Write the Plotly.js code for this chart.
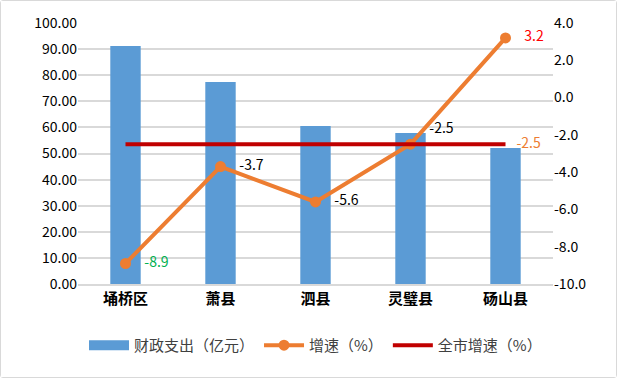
<!DOCTYPE html>
<html><head><meta charset="utf-8">
<script src="https://cdn.plot.ly/plotly-3.0.1.min.js"></script>
<style>html,body{margin:0;padding:0;background:#fff}#c{width:615px;height:376px;border:1px solid #D9D9D9;border-radius:3px}</style>
</head><body><div id="c"></div>
<script>
const categories = ['埇桥区','萧县','泗县','灵璧县','砀山县'];
const spending = [91.2, 77.4, 60.5, 57.9, 52.1];
const growth = [-8.9, -3.7, -5.6, -2.5, 3.2];
const cityGrowth = [-2.5, -2.5, -2.5, -2.5, -2.5];
const growthLabels = ['-8.9','-3.7','-5.6','-2.5','3.2'];
const growthLabelColors = ['#00B050','#000000','#000000','#000000','#FF0000'];
const cityLabels = ['','','','','-2.5'];
const leftTicks = [0,10,20,30,40,50,60,70,80,90,100];
const rightTicks = [-10,-8,-6,-4,-2,0,2,4];

const font = "'Noto Sans CJK SC', 'Noto Sans', sans-serif";
const pad = s => s ? '\u2007 ' + s : s;
const traces = [
  {type:'bar', x:categories, y:spending, name:'财政支出（亿元）', marker:{color:'#5B9BD5'}, yaxis:'y', showlegend:false},
  {type:'scatter', mode:'lines', x:[null], y:[null], name:'财政支出（亿元）', line:{color:'#5B9BD5', width:12}, hoverinfo:'skip'},
  {type:'scatter', mode:'lines+markers+text', x:categories, y:growth, name:'增速（%）', yaxis:'y2',
   line:{color:'#ED7D31', width:4}, marker:{color:'#ED7D31', size:11},
   text:growthLabels.map(pad), textposition:['middle right','middle right','middle right','top right','middle right'],
   textfont:{color:growthLabelColors, size:14, family:font}},
  {type:'scatter', mode:'lines+text', x:categories, y:cityGrowth, name:'全市增速（%）', yaxis:'y2',
   line:{color:'#C00000', width:4}, text:cityLabels.map(pad), textposition:'middle right',
   textfont:{color:'#ED7D31', size:14, family:font}, cliponaxis:false}
];
const layout = {
  width:615, height:376,
  margin:{l:77, r:63, t:22, b:93, autoexpand:false},
  paper_bgcolor:'#fff', plot_bgcolor:'#fff',
  font:{family:font, size:13, color:'#000'},
  bargap:0.68,
  showlegend:true,
  legend:{orientation:'h', x:0.5, xanchor:'center', yref:'container', y:0.04, yanchor:'bottom', font:{size:15, color:'#404040'}, traceorder:'normal', itemwidth:40},
  xaxis:{tickfont:{size:15, color:'#000', family:"'Noto Sans CJK SC', sans-serif", weight:'bold'}, showline:true, linecolor:'#D9D9D9', linewidth:1.5, ticks:'', showgrid:false},
  yaxis:{range:[0,100], tickvals:leftTicks, ticktext:leftTicks.map(v=>v.toFixed(2)), showgrid:true, gridcolor:'#D9D9D9', gridwidth:1.5, zeroline:false, ticks:'', tickfont:{size:14, color:'#000'}},
  yaxis2:{overlaying:'y', side:'right', range:[-10,4], tickvals:rightTicks, ticktext:rightTicks.map(v=>v.toFixed(1)), showgrid:false, zeroline:false, ticks:'', tickfont:{size:14, color:'#000'}}
};
Plotly.newPlot('c', traces, layout, {displayModeBar:false});
</script></body></html>
